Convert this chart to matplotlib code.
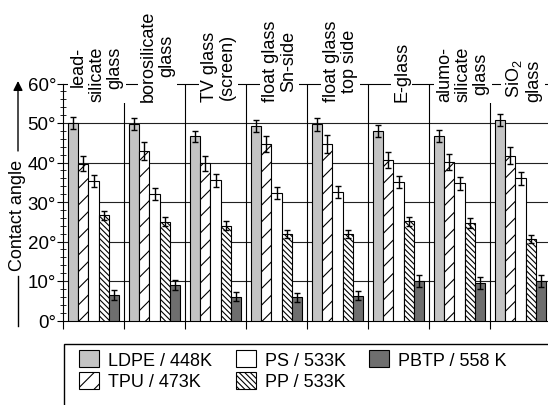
import matplotlib
matplotlib.use("Agg")
import matplotlib.pyplot as plt
import numpy as np
from matplotlib.patches import Rectangle, Patch
from matplotlib.lines import Line2D

plt.rcParams['font.family'] = ['Liberation Sans', 'DejaVu Sans']
plt.rcParams['mathtext.fontset'] = 'custom'
plt.rcParams['mathtext.rm'] = 'Liberation Sans'
plt.rcParams['mathtext.it'] = 'Liberation Sans:italic'
plt.rcParams['hatch.linewidth'] = 0.8

glasses = ["lead-\nsilicate\nglass", "borosilicate\nglass", "TV glass\n(screen)",
           "float glass\nSn-side", "float glass\ntop side", "E-glass",
           "alumo-\nsilicate\nglass", "SiO$_2$\nglass"]
label_align = ['right', 'center', 'center', 'center', 'center', 'center', 'center', 'right']

series = ["LDPE / 448K", "TPU / 473K", "PS / 533K", "PP / 533K", "PBTP / 558 K"]
LDPE = [50.0, 49.7, 46.6, 49.3, 49.7, 47.9, 46.8, 50.8]
TPU = [39.7, 43.0, 39.8, 44.6, 44.6, 40.6, 40.2, 41.7]
PS = [35.3, 32.0, 35.5, 32.3, 32.5, 35.1, 34.7, 36.0]
PP = [26.6, 25.0, 24.0, 21.9, 21.9, 25.1, 24.7, 20.6]
PBTP = [6.5, 9.0, 6.0, 5.9, 6.3, 9.9, 9.5, 10.1]
LDPE_err = [1.6, 1.5, 1.5, 1.5, 1.6, 1.5, 1.5, 1.6]
TPU_err = [1.9, 2.3, 1.9, 2.0, 2.3, 2.0, 2.0, 2.2]
PS_err = [1.6, 1.6, 1.6, 1.5, 1.5, 1.6, 1.6, 1.6]
PP_err = [1.2, 1.2, 1.2, 1.1, 1.1, 1.2, 1.2, 1.1]
PBTP_err = [1.2, 1.3, 1.1, 1.1, 1.1, 1.5, 1.4, 1.5]

values = [LDPE, TPU, PS, PP, PBTP]
errors = [LDPE_err, TPU_err, PS_err, PP_err, PBTP_err]
faces = ['#c4c4c4', 'white', 'white', 'white', '#6e6e6e']
hatches = [None, '//', None, '\\\\\\\\\\\\', None]

FS = 13
fig = plt.figure(figsize=(5.48, 4.06), dpi=100)
ax = fig.add_axes([63/548, (406-321.5)/406, 488/548, 237/406])

n = len(glasses)
x = np.arange(n) + 0.5
w = 0.168
for k in range(5):
    ax.bar(x + (k-2)*w, values[k], w, yerr=errors[k], color=faces[k],
           edgecolor='black', linewidth=0.8, hatch=hatches[k],
           error_kw=dict(ecolor='black', elinewidth=1.0, capsize=2.5, capthick=1.0),
           zorder=3)

ax.set_xlim(0, n)
ax.set_ylim(0, 60)
ax.set_yticks(np.arange(0, 61, 10))
ax.set_yticklabels([f"{v}°" for v in range(0, 61, 10)], fontsize=FS + 0.5)
ax.set_yticks(np.arange(0, 61, 2), minor=True)
ax.tick_params(axis='y', which='major', direction='out', length=4, width=0.8, pad=1)
ax.tick_params(axis='y', which='minor', direction='inout', length=4, width=0.6)
ax.set_xticks(np.arange(0, n+1))
ax.set_xticklabels([])
ax.tick_params(axis='x', direction='out', length=6, width=0.8)

for s in ['top', 'right']:
    ax.spines[s].set_visible(False)
ax.spines['left'].set_linewidth(0.8)
ax.spines['bottom'].set_linewidth(0.8)

for yv in range(10, 60, 10):
    ax.axhline(yv, color='#222222', lw=0.8, zorder=1)
ax.axhline(60, color='black', lw=0.8, zorder=1, clip_on=False)
ax.vlines(np.arange(1, n+1), 0, 60, color='black', lw=0.8, zorder=1)

for i, lab in enumerate(glasses):
    ax.text(x[i] + 0.05, 55.6, lab, rotation=90, ha='center', va='bottom', fontsize=FS,
            multialignment=label_align[i], linespacing=1.1,
            bbox=dict(facecolor='white', edgecolor='none', pad=1.5), zorder=5,
            clip_on=False)

# y label with arrow
fig.text(18/548, 1-215.5/406, "Contact angle", rotation=90, ha='center', va='center', fontsize=FS)
fig.add_artist(Line2D([18/548, 18/548], [1-277/406, 1-327/406], color='black', lw=1.0,
                      transform=fig.transFigure))
ax.annotate("", xy=(18/548, 1-82/406), xytext=(18/548, 1-152/406),
            xycoords='figure fraction', textcoords='figure fraction',
            arrowprops=dict(arrowstyle='-|>', color='black', lw=1.0, mutation_scale=14,
                            shrinkA=0, shrinkB=0))

# legend frame
fig.add_artist(Rectangle((64/548, -0.1), 1.0, 0.1 + 1-345/406, transform=fig.transFigure,
                         fill=False, edgecolor='black', lw=1.0))
handles = [Patch(facecolor=faces[k], edgecolor='black', hatch=hatches[k], linewidth=0.8)
           for k in range(5)]
cols = [[0, 1], [2, 3], [4]]
colx = [79, 236, 369]
for c, idxs in enumerate(cols):
    leg = fig.legend([handles[i] for i in idxs], [series[i] for i in idxs],
                     loc='upper left', bbox_to_anchor=(colx[c]/548, 1-351/406),
                     bbox_transform=fig.transFigure, frameon=False, fontsize=FS,
                     borderpad=0, borderaxespad=0, handlelength=1.1, handleheight=1.1,
                     handletextpad=0.5, labelspacing=0.15)

fig.savefig("out.png", dpi=100)
